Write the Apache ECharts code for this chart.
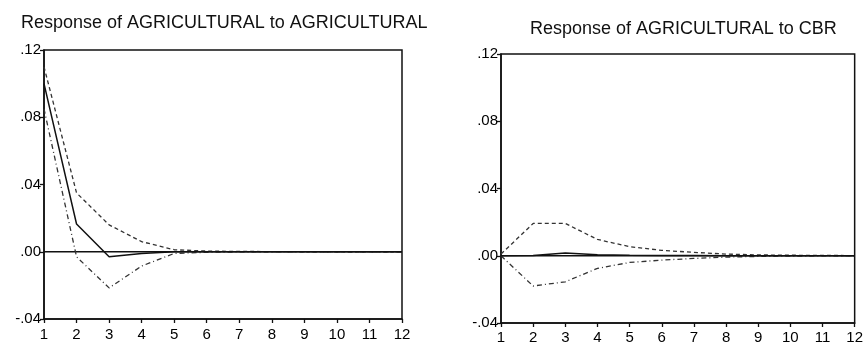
<!DOCTYPE html>
<html><head><meta charset="utf-8">
<script src="https://cdn.jsdelivr.net/npm/echarts@6/dist/echarts.min.js"></script>
<style>html,body{margin:0;padding:0;background:#fff}#c{width:866px;height:347px}</style>
</head><body><div id="c"></div>
<script>
const periods = ['1','2','3','4','5','6','7','8','9','10','11','12'];
const titleLeft = 'Response of AGRICULTURAL to AGRICULTURAL';
const titleRight = 'Response of AGRICULTURAL to CBR';
const yTicks = [-0.04, 0.00, 0.04, 0.08, 0.12];
// left panel
const aggResp  = [0.100, 0.0165, -0.003, -0.001, 0.0, 0.0, 0.0, 0.0, 0.0, 0.0, 0.0, 0.0];
const aggUpper = [0.110, 0.035, 0.016, 0.006, 0.0012, 0.0004, 0.0002, 0.0001, 0.0, 0.0, 0.0, 0.0];
const aggLower = [0.085, -0.003, -0.0215, -0.0085, -0.001, -0.0003, -0.0001, 0.0, 0.0, 0.0, 0.0, 0.0];
// right panel
const cbrResp  = [0.0, 0.0002, 0.0016, 0.0006, 0.0003, 0.0002, 0.0001, 0.0, 0.0, 0.0, 0.0, 0.0];
const cbrUpper = [0.001, 0.0192, 0.0192, 0.0097, 0.0054, 0.0032, 0.002, 0.001, 0.0005, 0.0003, 0.0002, 0.0001];
const cbrLower = [0.0, -0.018, -0.0155, -0.0075, -0.004, -0.0026, -0.0016, -0.0008, -0.0004, -0.0002, -0.0001, -0.0001];
const zeros = periods.map(() => 0);

const font = 'Liberation Sans, Arial, sans-serif';
function fmt(v){ return v.toFixed(2).replace(/^(-?)0\./, '$1.'); }
function xAxis(i, m){ return {gridIndex:i, type:'category', data:periods, boundaryGap:false,
  axisLine:{onZero:false, lineStyle:{color:'#111', width:1.5}}, axisTick:{length:4, lineStyle:{color:'#111', width:1.3}},
  axisLabel:{color:'#000', fontSize:15, fontFamily:font, margin:m}, splitLine:{show:false}}; }
function yAxis(i){ return {gridIndex:i, type:'value', min:-0.04, max:0.12, interval:0.04,
  axisLine:{show:true, onZero:false, lineStyle:{color:'#111', width:1.5}}, axisTick:{show:true, length:4, lineStyle:{color:'#111', width:1.3}},
  axisLabel:{color:'#000', fontSize:15, fontFamily:font, margin:3, formatter:fmt, verticalAlign:'middle', padding:[0,0,5,0]}, splitLine:{show:false}}; }
function ser(i, data, type, color, width){ return {type:'line', xAxisIndex:i, yAxisIndex:i, data:data, symbol:'none',
  silent:true, lineStyle:{color:color, width:width, type:type}}; }

const chart = echarts.init(document.getElementById('c'), null, {renderer:'canvas'});
chart.setOption({
  animation:false,
  title:[
    {text:titleLeft, left:16, top:9, textStyle:{fontFamily:font, fontSize:18, fontWeight:'normal', color:'#111'}},
    {text:titleRight, left:525, top:15, textStyle:{fontFamily:font, fontSize:18, fontWeight:'normal', color:'#111'}}
  ],
  grid:[
    {left:44, right:464, top:50, bottom:28, show:true, borderColor:'#111', borderWidth:1.5, backgroundColor:'transparent'},
    {left:501, right:9, top:54, bottom:24, show:true, borderColor:'#111', borderWidth:1.5, backgroundColor:'transparent'}
  ],
  xAxis:[xAxis(0, 8), xAxis(1, 7)],
  yAxis:[yAxis(0), yAxis(1)],
  series:[
    ser(0, zeros, 'solid', '#111', 1.3),
    ser(0, aggUpper, [4,3], '#333', 1.3),
    ser(0, aggLower, [5,3,1,3], '#333', 1.3),
    ser(0, aggResp, 'solid', '#111', 1.5),
    ser(1, zeros, 'solid', '#111', 1.3),
    ser(1, cbrUpper, [4,3], '#333', 1.3),
    ser(1, cbrLower, [5,3,1,3], '#333', 1.3),
    ser(1, cbrResp, 'solid', '#111', 1.5)
  ]
});
</script></body></html>
